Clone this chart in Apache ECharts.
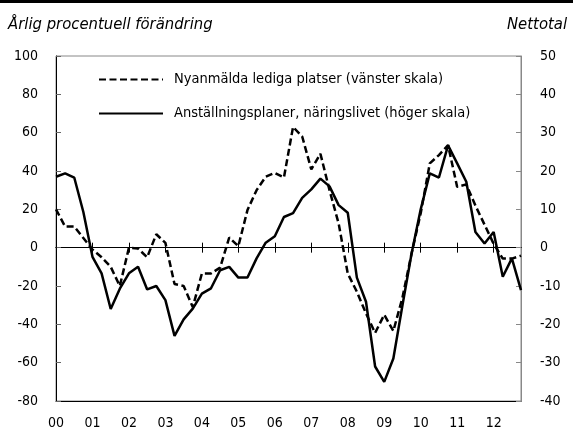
<!DOCTYPE html>
<html><head><meta charset="utf-8">
<script src="https://cdn.jsdelivr.net/npm/echarts@6/dist/echarts.min.js"></script>
<style>html,body{margin:0;padding:0;background:#fff}#c{width:573px;height:432px}</style>
</head><body><div id="c"></div>
<script>
const years = ['00','01','02','03','04','05','06','07','08','09','10','11','12'];
const quarters = ['K1','K2','K3','K4'];
const categories = years.flatMap(y => quarters.map(q => y + q));

// Nyanmälda lediga platser, årlig procentuell förändring (vänster skala)
const vacancies = [
  20, 11, 11, 5, -1, -5, -10, -20,
  0, -0.5, -5, 7, 2.5, -19, -20, -31,
  -13.5, -13.5, -10.4, 5.3, 0.8, 19.6, 30, 37,
  39, 36.6, 63, 58, 40.8, 49, 30, 12.6,
  -13.5, -23, -34.3, -44.5, -35, -43.5, -26, -3,
  18, 44, 48.3, 53.5, 31.7, 33, 22, 12,
  2, -5.7, -5.7, -4.2
];
// Anställningsplaner, näringslivet, nettotal (höger skala)
const hiringPlans = [
  18.5, 19.4, 18.3, 9.3, -2.4, -6.7, -16, -10.7,
  -6.7, -5, -10.9, -10, -13.7, -23, -18.7, -15.9,
  -12, -10.6, -5.9, -5, -7.8, -7.8, -2.8, 1.3,
  3, 8, 9, 13, 15.2, 18, 16, 11.1,
  9.1, -7.8, -14.1, -31, -35, -28.9, -15, -1.5,
  10, 19.4, 18.3, 26.7, 22, 17.2, 4.1, 1.1,
  4.1, -7.6, -2.8, -11.1
];
const seriesNames = ['Nyanmälda lediga platser (vänster skala)', 'Anställningsplaner, näringslivet (höger skala)'];
const leftAxis = {min: -80, max: 100, interval: 20};
const rightAxis = {min: -40, max: 50, interval: 10};
const leftTitle = 'Årlig procentuell förändring';
const rightTitle = 'Nettotal';

const FONT = '"Liberation Sans Narrow", "DejaVu Sans Condensed", "Roboto Condensed", sans-serif';
const chart = echarts.init(document.getElementById('c'), null, {renderer: 'canvas'});
const baseX = {type: 'category', data: categories, boundaryGap: false, gridIndex: 0};
const legendBase = {
  left: 93, itemWidth: 64, itemHeight: 14,
  itemStyle: {opacity: 0, borderWidth: 0},
  textStyle: {fontFamily: FONT, fontSize: 14.5, color: '#000', padding: [0, 0, 0, 6]}
};
chart.setOption({
  animation: false,
  backgroundColor: '#fff',
  textStyle: {fontFamily: FONT},
  graphic: [{type: 'rect', shape: {x: 0, y: 0, width: 573, height: 3}, style: {fill: '#000'}}],
  title: [
    {text: leftTitle, left: 3, top: 11, textStyle: {fontFamily: FONT, fontSize: 16.5, fontStyle: 'italic', fontWeight: 'normal', color: '#000'}},
    {text: rightTitle, right: 1, top: 11, textStyle: {fontFamily: FONT, fontSize: 16.5, fontStyle: 'italic', fontWeight: 'normal', color: '#000'}}
  ],
  grid: {left: 56, right: 52, top: 56, bottom: 31, show: true, borderColor: '#888', borderWidth: 1},
  legend: [
    Object.assign({data: [seriesNames[0]], top: 67}, legendBase),
    Object.assign({data: [seriesNames[1]], top: 101}, legendBase)
  ],
  xAxis: [
    Object.assign({}, baseX, {
      position: 'bottom',
      axisLine: {onZero: false, lineStyle: {color: '#000', width: 1}},
      axisTick: {show: false},
      axisLabel: {interval: 3, formatter: v => v.slice(0, 2), fontFamily: FONT, fontSize: 14, color: '#000', margin: 15},
      splitLine: {show: false}
    }),
    Object.assign({}, baseX, {
      position: 'bottom',
      axisLine: {onZero: true, onZeroAxisIndex: 0, lineStyle: {color: '#000', width: 1}},
      axisTick: {show: true, inside: true, interval: 3, length: 5, lineStyle: {color: '#000'}},
      axisLabel: {show: false}, splitLine: {show: false}
    }),
    Object.assign({}, baseX, {
      position: 'bottom',
      axisLine: {onZero: true, onZeroAxisIndex: 0, lineStyle: {color: '#000', width: 1}},
      axisTick: {show: true, inside: false, interval: 3, length: 5, lineStyle: {color: '#000'}},
      axisLabel: {show: false}, splitLine: {show: false}
    })
  ],
  yAxis: [
    {type: 'value', position: 'left', min: leftAxis.min, max: leftAxis.max, interval: leftAxis.interval,
     axisLine: {show: true, lineStyle: {color: '#000'}},
     axisTick: {show: true, inside: true, length: 5, lineStyle: {color: '#666'}},
     axisLabel: {fontFamily: FONT, fontSize: 14, color: '#000', margin: 18},
     splitLine: {show: false}},
    {type: 'value', position: 'right', min: rightAxis.min, max: rightAxis.max, interval: rightAxis.interval,
     axisLine: {show: true, lineStyle: {color: '#888'}},
     axisTick: {show: true, inside: true, length: 5, lineStyle: {color: '#888'}},
     axisLabel: {fontFamily: FONT, fontSize: 14, color: '#000', margin: 19},
     splitLine: {show: false}}
  ],
  series: [
    {name: seriesNames[0], type: 'line', xAxisIndex: 0, yAxisIndex: 0, data: vacancies,
     symbol: 'none', color: '#000', lineStyle: {color: '#000', width: 2.5, type: [7, 3.5]}, z: 3},
    {name: seriesNames[1], type: 'line', xAxisIndex: 0, yAxisIndex: 1, data: hiringPlans,
     symbol: 'none', color: '#000', lineStyle: {color: '#000', width: 2.5, type: 'solid'}, z: 4}
  ]
});
</script></body></html>
